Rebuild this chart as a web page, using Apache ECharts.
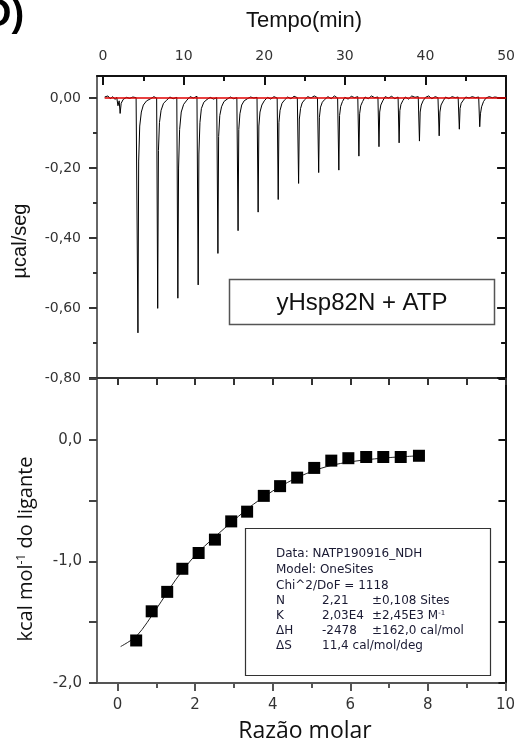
<!DOCTYPE html>
<html>
<head>
<meta charset="utf-8">
<script src="https://cdn.jsdelivr.net/npm/echarts@6/dist/echarts.min.js"></script>
<style>
html,body{margin:0;padding:0;background:#fff;}
#chart{width:518px;height:747px;}
</style>
</head>
<body>
<div id="chart"></div>
<script>
// ---------- DATA ----------
// Raw thermogram (time in min, µcal/seg)
const tracePoints = [
[0.2,0.003],[0.6,0.006],[0.9,-0.002],[1.2,0.004],[1.5,-0.004],[1.7,0.002],[1.85,-0.022],[2.0,-0.008],[2.12,-0.044],[2.25,-0.015],[2.5,-0.004],[2.9,0.002],[3.3,-0.001],[3.7,0.003],[4.1,0.001],
[4.28,0.0],[4.33,-0.671],[4.42,-0.18],[4.55,-0.08],[4.75,-0.04],[5.0,-0.02],[5.4,-0.008],[5.9,-0.002],[6.3,0.004],[6.65,0.0],
[6.73,0.001],[6.78,-0.601],[6.87,-0.15],[7.0,-0.07],[7.2,-0.035],[7.5,-0.015],[7.9,-0.006],[8.3,0.003],[8.7,-0.002],[9.15,0.002],
[9.23,0.0],[9.28,-0.572],[9.37,-0.20],[9.5,-0.09],[9.7,-0.04],[10.0,-0.018],[10.4,-0.006],[10.8,0.004],[11.2,0.0],[11.65,0.005],
[11.75,0.002],[11.80,-0.534],[11.89,-0.16],[12.02,-0.07],[12.2,-0.03],[12.5,-0.012],[12.9,-0.004],[13.3,0.002],[13.7,-0.003],[14.1,0.001],
[14.2,0.0],[14.25,-0.444],[14.34,-0.11],[14.48,-0.05],[14.7,-0.025],[15.0,-0.01],[15.4,-0.003],[15.8,0.003],[16.2,-0.002],[16.6,0.001],
[16.7,0.0],[16.75,-0.379],[16.84,-0.09],[16.98,-0.045],[17.2,-0.02],[17.5,-0.008],[17.9,-0.002],[18.3,0.003],[18.7,0.0],[19.1,0.002],
[19.19,0.0],[19.24,-0.326],[19.33,-0.08],[19.47,-0.04],[19.7,-0.02],[20.0,-0.008],[20.4,0.002],[20.8,-0.003],[21.2,0.004],[21.6,0.0],
[21.68,0.0],[21.73,-0.29],[21.82,-0.07],[21.96,-0.035],[22.2,-0.015],[22.5,-0.006],[22.9,0.003],[23.3,-0.002],[23.7,0.005],[24.1,0.001],
[24.21,0.0],[24.26,-0.244],[24.35,-0.06],[24.5,-0.03],[24.7,-0.014],[25.0,-0.005],[25.4,0.004],[25.8,0.0],[26.2,0.006],[26.6,0.001],
[26.70,0.0],[26.75,-0.213],[26.84,-0.055],[26.98,-0.026],[27.2,-0.012],[27.5,-0.004],[27.9,0.004],[28.3,-0.002],[28.7,0.006],[29.1,0.0],
[29.2,0.002],[29.25,-0.206],[29.34,-0.05],[29.48,-0.024],[29.7,-0.01],[30.0,0.002],[30.4,-0.003],[30.8,0.005],[31.2,0.001],[31.6,0.004],
[31.69,0.0],[31.74,-0.166],[31.83,-0.045],[31.97,-0.022],[32.2,-0.01],[32.5,0.003],[32.9,-0.002],[33.3,0.006],[33.7,0.001],[34.1,0.003],
[34.18,0.0],[34.23,-0.139],[34.32,-0.04],[34.46,-0.02],[34.7,-0.008],[35.0,0.004],[35.4,0.0],[35.8,0.005],[36.2,-0.002],[36.6,0.003],
[36.68,0.0],[36.73,-0.128],[36.82,-0.036],[36.96,-0.018],[37.2,-0.007],[37.5,0.003],[37.9,-0.003],[38.3,0.006],[38.7,0.002],[39.1,0.004],
[39.2,0.0],[39.25,-0.123],[39.34,-0.04],[39.48,-0.02],[39.7,-0.008],[40.0,0.002],[40.4,0.006],[40.8,-0.002],[41.2,0.004],[41.55,0.001],
[41.65,0.0],[41.70,-0.108],[41.79,-0.04],[41.93,-0.02],[42.2,-0.008],[42.5,0.003],[42.9,-0.002],[43.3,0.004],[43.7,0.001],[44.05,0.003],
[44.15,0.0],[44.2,-0.089],[44.29,-0.03],[44.43,-0.015],[44.7,-0.006],[45.0,0.003],[45.4,0.0],[45.8,0.004],[46.2,0.001],[46.6,0.003],
[46.68,0.0],[46.73,-0.082],[46.82,-0.045],[46.96,-0.025],[47.2,-0.01],[47.5,0.0],[47.9,0.004],[48.3,0.001],[48.6,0.003],[48.9,0.002]
];
// Baseline (red)
const baselinePoints = [[0.2,0],[50,0]];

// Integrated heats
const molarRatio = [0.48,0.88,1.28,1.67,2.09,2.51,2.93,3.34,3.77,4.19,4.63,5.07,5.51,5.95,6.41,6.85,7.30,7.77];
const heatValues = [-1.65,-1.41,-1.25,-1.06,-0.93,-0.82,-0.67,-0.59,-0.46,-0.38,-0.31,-0.23,-0.17,-0.15,-0.14,-0.14,-0.14,-0.13];

// Fitted curve
const fitX = [0.08,0.5,1.0,1.5,2.0,2.5,3.0,3.5,4.0,4.5,5.0,5.5,6.0,6.5,7.0,7.77];
const fitY = [-1.70,-1.61,-1.39,-1.15,-0.95,-0.80,-0.66,-0.53,-0.42,-0.33,-0.26,-0.21,-0.18,-0.16,-0.145,-0.13];

// Tick values
const timeTicks = [0,10,20,30,40,50];
const timeMinor = [5,15,25,35,45];
const ucalTicks = [0,-0.2,-0.4,-0.6,-0.8];
const ucalMinor = [-0.1,-0.3,-0.5,-0.7];
const ratioTicks = [0,2,4,6,8,10];
const ratioMinor = [1,3,5,7,9];
const ratioTopTicks = [0,1,2,3,4,5,6,7,8,9,10];
const kcalTicks = [0,-1,-2];
const kcalAllTicks = [-2,-1.5,-1,-0.5,0,0.5];

// Fit report
const fitHeader = ['Data: NATP190916_NDH','Model: OneSites','Chi^2/DoF = 1118'];
const fitParamNames = ['N','K','ΔH','ΔS'];
const fitParamValues = ['2,21','2,03E4','-2478','11,4 cal/mol/deg'];
const fitParamErrors = ['±0,108 Sites','±2,45E3 M{s|-1}','±162,0 cal/mol',''];

// ---------- CHART ----------
const chart = echarts.init(document.getElementById('chart'), null, {renderer:'canvas'});
const tickFont = {fontFamily:'DejaVu Sans', fontSize:14, color:'#333'};
const comma = (d) => (v) => v.toFixed(d).replace('.', ',');

function axisBase(o){
  const a = Object.assign({
    type:'value', scale:false, splitLine:{show:false},
    axisLine:{show:false}, axisTick:{show:false}, axisLabel:{show:false}
  }, o);
  a.axisLine = Object.assign({onZero:false}, a.axisLine);
  return a;
}

const TOP = {gridIndex:0, min:-0.75, max:50};
const UC = {gridIndex:0, min:-0.8, max:0.063};
const BOT = {gridIndex:1, min:-0.53, max:10};
const KC = {gridIndex:1, min:-2.0, max:0.51};

const xAxes = [
  axisBase(Object.assign({}, TOP, {position:'top',
    axisLine:{show:true, lineStyle:{color:'#111', width:2}},
    axisTick:{show:true, inside:true, length:9, customValues:timeTicks, lineStyle:{color:'#111', width:2}},
    axisLabel:Object.assign({show:true, customValues:timeTicks, margin:13, showMinLabel:true, showMaxLabel:true}, tickFont)})),
  axisBase(Object.assign({}, TOP, {position:'top',
    axisTick:{show:true, inside:true, length:5, customValues:timeMinor, lineStyle:{color:'#111', width:2}}})),
  axisBase(Object.assign({}, BOT, {position:'bottom',
    axisLine:{show:true, lineStyle:{color:'#555', width:2}},
    axisTick:{show:true, inside:false, length:8, customValues:ratioTicks, lineStyle:{color:'#555', width:2}},
    axisLabel:Object.assign({show:true, customValues:ratioTicks, margin:15, showMinLabel:true, showMaxLabel:true}, tickFont, {fontSize:15})})),
  axisBase(Object.assign({}, BOT, {position:'bottom',
    axisTick:{show:true, inside:false, length:5, customValues:ratioMinor, lineStyle:{color:'#555', width:2}}})),
  axisBase(Object.assign({}, BOT, {position:'top',
    axisLine:{show:true, lineStyle:{color:'#333', width:2}},
    axisTick:{show:true, inside:true, length:7, customValues:ratioTopTicks, lineStyle:{color:'#333', width:2}}}))
];

const yAxes = [
  axisBase(Object.assign({}, UC, {position:'left',
    axisLine:{show:true, lineStyle:{color:'#666', width:2}},
    axisTick:{show:true, inside:false, length:8, customValues:ucalTicks, lineStyle:{color:'#333', width:2}},
    axisLabel:Object.assign({show:true, customValues:ucalTicks, margin:16, formatter:comma(2), showMinLabel:true, showMaxLabel:true}, tickFont)})),
  axisBase(Object.assign({}, UC, {position:'left',
    axisTick:{show:true, inside:false, length:4, customValues:ucalMinor, lineStyle:{color:'#333', width:2}}})),
  axisBase(Object.assign({}, UC, {position:'right',
    axisLine:{show:true, lineStyle:{color:'#111', width:2}},
    axisTick:{show:true, inside:true, length:9, customValues:ucalTicks, lineStyle:{color:'#111', width:2}}})),
  axisBase(Object.assign({}, UC, {position:'right',
    axisTick:{show:true, inside:true, length:5, customValues:ucalMinor, lineStyle:{color:'#111', width:2}}})),
  axisBase(Object.assign({}, KC, {position:'left',
    axisLine:{show:true, lineStyle:{color:'#666', width:2}},
    axisTick:{show:true, inside:false, length:8, customValues:kcalAllTicks, lineStyle:{color:'#444', width:2}},
    axisLabel:Object.assign({show:true, customValues:kcalTicks, margin:15, formatter:comma(1), showMinLabel:true, showMaxLabel:true}, tickFont, {fontSize:15})})),
  axisBase(Object.assign({}, KC, {position:'right',
    axisLine:{show:true, lineStyle:{color:'#111', width:2}},
    axisTick:{show:true, inside:true, length:7, customValues:kcalAllTicks, lineStyle:{color:'#111', width:2}}}))
];

// Graphics: titles, boxes, report
const graphics = [
  {type:'text', x:-16, y:16, style:{text:'D)', font:'bold 38px "Liberation Sans", Arial', fill:'#000', verticalAlign:'middle'}},
  {type:'text', x:304, y:21, style:{text:'Tempo(min)', font:'22px "Liberation Sans", Arial', fill:'#111', align:'center', verticalAlign:'middle'}},
  {type:'text', x:20, y:241, rotation:Math.PI/2, style:{text:'µcal/seg', font:'20px "Liberation Sans", Arial', fill:'#111', align:'center', verticalAlign:'middle'}},
  {type:'text', x:26, y:549, rotation:Math.PI/2, style:{
    text:'kcal mol{s|-1} do ligante', font:'20px "Open Sans"', fill:'#111', align:'center', verticalAlign:'middle',
    rich:{s:{font:'12px "Open Sans"', fill:'#111', verticalAlign:'top', padding:[0,0,8,0]}}}},
  {type:'text', x:305, y:731, style:{text:'Razão molar', font:'23px "Open Sans"', fill:'#111', align:'center', verticalAlign:'middle'}},
  {type:'rect', shape:{x:229.5, y:279.5, width:265, height:45}, style:{fill:'#fff', stroke:'#555', lineWidth:1.5}, z:10},
  {type:'text', x:362, y:303, z:11, style:{text:'yHsp82N + ATP', font:'24px "Liberation Sans", Arial', fill:'#111', align:'center', verticalAlign:'middle'}},
  {type:'rect', shape:{x:245.5, y:528.5, width:245, height:147}, style:{fill:'#fff', stroke:'#333', lineWidth:1.2}, z:10}
];
const reportFont = '12px "DejaVu Sans"';
const reportLineY = [554,570,586,601,616,631,646];
fitHeader.forEach((t,i)=>{
  graphics.push({type:'text', x:276, y:reportLineY[i], z:11, style:{text:t, font:reportFont, fill:'#1a1a33', verticalAlign:'middle'}});
});
fitParamNames.forEach((t,i)=>{
  const y = reportLineY[i+3];
  graphics.push({type:'text', x:276, y:y, z:11, style:{text:t, font:reportFont, fill:'#1a1a33', verticalAlign:'middle'}});
  graphics.push({type:'text', x:322, y:y, z:11, style:{text:fitParamValues[i], font:reportFont, fill:'#1a1a33', verticalAlign:'middle'}});
  if (fitParamErrors[i]) graphics.push({type:'text', x:372, y:y, z:11, style:{text:fitParamErrors[i], font:reportFont, fill:'#1a1a33', verticalAlign:'middle',
    rich:{s:{font:'7px "DejaVu Sans"', fill:'#1a1a33', verticalAlign:'top', padding:[0,0,5,0]}}}});
});

const option = {
  backgroundColor:'#fff',
  animation:false,
  grid:[
    {left:97, top:76, width:414, height:302, containLabel:false},
    {left:97, top:378, width:414, height:305, containLabel:false}
  ],
  xAxis:xAxes,
  yAxis:yAxes,
  series:[
    {type:'line', xAxisIndex:0, yAxisIndex:0, data:tracePoints, showSymbol:false, symbol:'none',
      lineStyle:{color:'#000', width:1}, z:3},
    {type:'line', xAxisIndex:0, yAxisIndex:0, data:baselinePoints, showSymbol:false, symbol:'none',
      lineStyle:{color:'#e00000', width:1.5}, z:4},
    {type:'line', xAxisIndex:2, yAxisIndex:4, data:fitX.map((x,i)=>[x,fitY[i]]), showSymbol:false, symbol:'none',
      smooth:0.3, lineStyle:{color:'#222', width:1}, z:3},
    {type:'scatter', xAxisIndex:2, yAxisIndex:4, data:molarRatio.map((x,i)=>[x,heatValues[i]]),
      symbol:'rect', symbolSize:12, itemStyle:{color:'#000', opacity:1}, z:4}
  ],
  graphic:graphics
};
chart.setOption(option);
</script>
</body>
</html>
